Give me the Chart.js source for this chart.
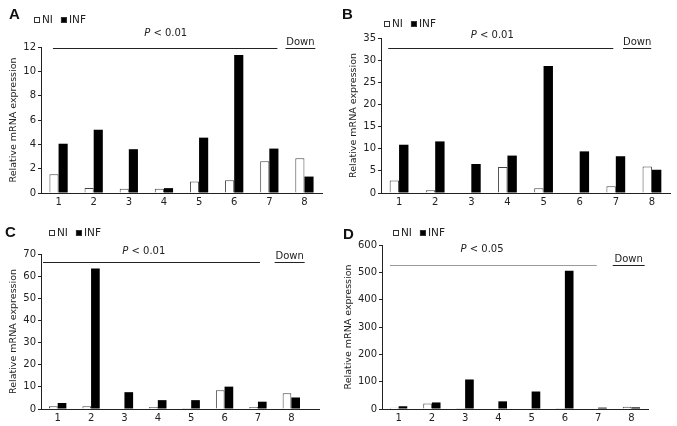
<!DOCTYPE html>
<html lang="en">
<head>
<meta charset="UTF-8">
<title>Relative mRNA expression, NI vs INF</title>
<script src="https://cdn.jsdelivr.net/npm/chart.js"></script>
<style>
  body { margin: 0; background: #fff; }
  canvas { position: absolute; }
</style>
</head>
<body>

<canvas id="chartA" style="left:0;top:0"></canvas>
<canvas id="chartB" style="left:338px;top:0"></canvas>
<canvas id="chartC" style="left:0;top:210px"></canvas>
<canvas id="chartD" style="left:338px;top:210px"></canvas>

<script>
// data
var genes = ['1', '2', '3', '4', '5', '6', '7', '8'];
var seriesNames = ['NI', 'INF'];

var niA  = [1.55, 0.42, 0.35, 0.35, 0.95, 1.05, 2.6, 2.85];
var infA = [4.05, 5.2, 3.6, 0.4, 4.55, 11.35, 3.65, 1.35];

var niB  = [2.85, 0.6, 0, 5.85, 1.1, 0, 1.5, 6.0];
var infB = [10.9, 11.65, 6.55, 8.45, 28.7, 9.4, 8.3, 5.25];

var niC  = [1.2, 1.2, 0, 0.9, 0.45, 8.5, 0.9, 7.1];
var infC = [2.7, 63.5, 7.6, 4.0, 4.0, 10.1, 3.3, 5.2];

var niD  = [5, 20, 4, 0, 0, 4, 0, 8];
var infD = [10, 24, 108, 28, 64, 506, 5, 6];

var yMax  = [12, 35, 70, 600];
var yStep = [2, 5, 10, 100];
var pValues = ['0.01', '0.01', '0.01', '0.05'];
var panelLetters = ['A', 'B', 'C', 'D'];

var txt = '#222';
var fontFam = '"DejaVu Sans", Verdana, sans-serif';

// draws panel letter, small legend, the P bar and the "Down" mark
var annotate = {
  id: 'annotate',
  afterDraw: function(chart, args, o) {
    var ctx = chart.ctx, xs = chart.scales.x, ys = chart.scales.y, ca = chart.chartArea;
    ctx.save();
    ctx.textBaseline = 'middle';
    ctx.textAlign = 'left';

    // letter
    ctx.fillStyle = '#111';
    ctx.font = 'bold 15px "Liberation Sans", Arial, sans-serif';
    ctx.fillText(o.letter, o.letterPos[0], o.letterPos[1]);

    // legend
    ctx.font = '10.5px ' + fontFam;
    var lx = o.legendPos[0], ly = o.legendPos[1];
    chart.data.datasets.forEach(function(ds) {
      ctx.fillStyle = ds.backgroundColor;
      ctx.fillRect(lx, ly - 3, 6, 6);
      ctx.strokeStyle = '#333';
      ctx.lineWidth = 1;
      ctx.strokeRect(lx + 0.5, ly - 2.5, 5, 5);
      ctx.fillStyle = txt;
      ctx.fillText(ds.label, lx + 8, ly);
      lx += 8 + ctx.measureText(ds.label).width + 8;
    });

    // axis extension (panel C)
    if (o.axisExt) {
      var by = Math.round(ca.bottom) + 0.5;
      ctx.strokeStyle = txt;
      ctx.beginPath();
      ctx.moveTo(ca.right, by);
      ctx.lineTo(ca.right + o.axisExt, by);
      ctx.stroke();
    }

    // P line
    var x1 = xs.getPixelForValue(o.line[0]), x2 = xs.getPixelForValue(o.line[1]);
    var y0 = Math.round(ys.getPixelForValue(o.lineY)) + 0.5;
    ctx.strokeStyle = o.lineColor;
    ctx.beginPath();
    ctx.moveTo(x1, y0);
    ctx.lineTo(x2, y0);
    ctx.stroke();

    // P text, italic P
    var px = xs.getPixelForValue(o.pAt), py = y0 - o.pOffset;
    ctx.font = 'italic 10px ' + fontFam;
    var w1 = ctx.measureText('P').width;
    ctx.font = '10px ' + fontFam;
    var rest = ' < ' + o.p;
    var w2 = ctx.measureText(rest).width;
    var sx = px - (w1 + w2) / 2;
    ctx.fillStyle = txt;
    ctx.font = 'italic 10px ' + fontFam;
    ctx.fillText('P', sx, py);
    ctx.font = '10px ' + fontFam;
    ctx.fillText(rest, sx + w1, py);

    // Down
    var d1 = xs.getPixelForValue(o.down[0]), d2 = xs.getPixelForValue(o.down[1]);
    ctx.strokeStyle = txt;
    ctx.beginPath();
    ctx.moveTo(d1, y0);
    ctx.lineTo(d2, y0);
    ctx.stroke();
    ctx.textAlign = 'center';
    ctx.fillText('Down', (d1 + d2) / 2, y0 - 6);
    ctx.restore();
  }
};

function makePanel(id, i, ni, inf, box, area, note) {
  var cv = document.getElementById(id);
  cv.width = box[0];
  cv.height = box[1];
  return new Chart(cv, {
    type: 'bar',
    data: {
      labels: genes,
      datasets: [
        { label: seriesNames[0], data: ni, backgroundColor: '#fff', borderColor: '#444', borderWidth: 1 },
        { label: seriesNames[1], data: inf, backgroundColor: '#000', borderColor: '#000', borderWidth: 0 }
      ]
    },
    options: {
      responsive: false,
      animation: false,
      events: [],
      categoryPercentage: 0.52,
      barPercentage: 1.0,
      layout: {
        padding: { left: area.pl, top: area.t, right: box[0] - area.r, bottom: 0 }
      },
      plugins: {
        legend: { display: false },
        tooltip: { enabled: false },
        annotate: note
      },
      scales: {
        x: {
          grid: { display: false, drawTicks: false },
          border: { display: true, color: txt, width: 1 },
          ticks: { color: txt, font: { family: fontFam, size: 10 }, padding: 3, maxRotation: 0 },
          afterFit: function(s) { s.height = box[1] - area.b; }
        },
        y: {
          min: 0,
          max: yMax[i],
          ticks: { stepSize: yStep[i], color: txt, font: { family: fontFam, size: 10 }, padding: 2 },
          grid: { drawOnChartArea: false, drawTicks: true, tickLength: 3, color: txt },
          border: { display: true, color: txt, width: 1 },
          title: {
            display: true,
            text: 'Relative mRNA expression',
            color: txt,
            font: { family: fontFam, size: 9.5 },
            padding: { top: 4, bottom: 0 }
          },
          afterFit: function(s) { s.width = area.l - area.pl; }
        }
      }
    },
    plugins: [annotate]
  });
}

makePanel('chartA', 0, niA, infA, [338, 210],
  { pl: 4, l: 41, t: 47, r: 322, b: 193 },
  { letter: panelLetters[0], letterPos: [9, 15], legendPos: [34, 20], line: [-0.16, 6.23], lineY: 11.92,
    lineColor: '#222', pAt: 3.05, pOffset: 15, p: pValues[0], down: [6.46, 7.31] });

makePanel('chartB', 1, niB, infB, [339, 210],
  { pl: 6, l: 43, t: 38, r: 332, b: 193 },
  { letter: panelLetters[1], letterPos: [4, 15], legendPos: [46, 24], line: [-0.3, 5.93], lineY: 32.7,
    lineColor: '#222', pAt: 2.58, pOffset: 13, p: pValues[1], down: [6.2, 6.98] });

makePanel('chartC', 2, niC, infC, [338, 216],
  { pl: 4, l: 41, t: 44, r: 308, b: 199 },
  { letter: panelLetters[2], letterPos: [5, 23], legendPos: [49, 23], line: [-0.44, 6.06], lineY: 66.4,
    lineColor: '#222', pAt: 2.58, pOffset: 11, p: pValues[2], down: [6.5, 7.4], axisExt: 12 });

makePanel('chartD', 3, niD, infD, [339, 216],
  { pl: 1, l: 44, t: 35, r: 310, b: 199 },
  { letter: panelLetters[3], letterPos: [5, 25], legendPos: [55, 23], line: [-0.26, 5.96], lineY: 527,
    lineColor: '#999', pAt: 2.51, pOffset: 16, p: pValues[3], down: [6.44, 7.4] });
</script>

</body>
</html>
